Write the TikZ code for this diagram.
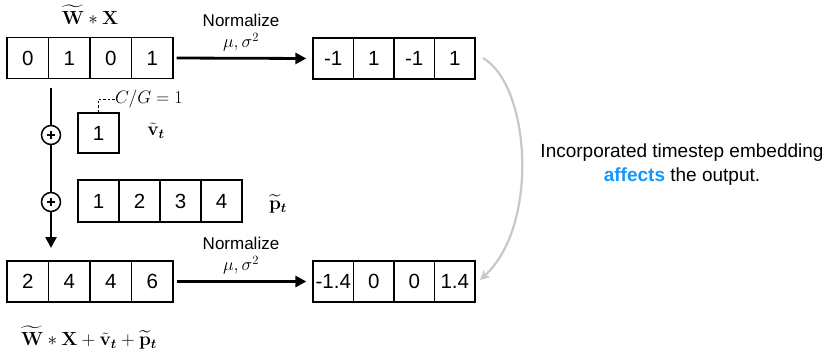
\RequirePackage{fix-cm}
\documentclass[tikz,border=0pt]{standalone}
\usepackage{amsmath,bm}
\usepackage[no-math]{fontspec}
\setmainfont{Liberation Sans}
\usetikzlibrary{arrows.meta}
\definecolor{affblue}{RGB}{20,150,250}
\definecolor{curvegray}{RGB}{200,200,200}
\newcommand\numfont{\fontsize{20.5bp}{24bp}\selectfont}
\newcommand\normfont{\fontsize{17bp}{20bp}\selectfont}
\newcommand\txtfont{\fontsize{19bp}{24bp}\selectfont}
\newcommand\msmall{\fontsize{18bp}{21bp}\selectfont}
\newcommand\mbig{\fontsize{19bp}{23bp}\selectfont}
\tikzset{
  cell/.style={draw, line width=1.3bp, minimum width=41.5bp, minimum height=41bp, inner sep=0pt, font=\numfont},
  rcell/.style={cell, minimum width=40.5bp},
  harrow/.style={line width=2.8bp, -{Triangle[length=11bp,width=11bp]}, shorten <=3bp, shorten >=6bp},
  vline/.style={line width=2.5bp},
  plusnode/.style={circle, draw, line width=1.5bp, fill=white, minimum size=19bp, inner sep=0pt,
    path picture={
      \draw[line width=2bp] ([xshift=-4bp]path picture bounding box.center) -- ([xshift=4bp]path picture bounding box.center);
      \draw[line width=2bp] ([yshift=-4bp]path picture bounding box.center) -- ([yshift=4bp]path picture bounding box.center);
    }},
  normlbl/.style={font=\normfont, inner sep=0pt},
  mlbl/.style={font=\msmall, inner sep=0pt},
  blbl/.style={font=\mbig, inner sep=0pt}
}
\begin{document}
\begin{tikzpicture}[x=1bp,y=-1bp]
\useasboundingbox (0,0) rectangle (826,356);

% top-left row
\node[cell] (a1) at (27.75,58) {0};
\node[cell] (a2) at (69.25,58) {1};
\node[cell] (a3) at (110.75,58) {0};
\node[cell] (a4) at (152.25,58) {1};
% top-right row
\node[rcell] (b1) at (333.25,58.5) {-1};
\node[rcell] (b2) at (373.75,58.5) {1};
\node[rcell] (b3) at (414.25,58.5) {-1};
\node[rcell] (b4) at (454.75,58.5) {1};
% bottom-left row
\node[cell] (c1) at (27.75,281.5) {2};
\node[cell] (c2) at (69.25,281.5) {4};
\node[cell] (c3) at (110.75,281.5) {4};
\node[cell] (c4) at (152.25,281.5) {6};
% bottom-right row
\node[rcell] (d1) at (333.25,281.5) {-1.4};
\node[rcell] (d2) at (373.75,281.5) {0};
\node[rcell] (d3) at (414.25,281.5) {0};
\node[rcell] (d4) at (454.75,281.5) {1.4};
% v box
\node[cell, minimum width=41bp, minimum height=40bp] (vbox) at (98.5,133) {1};
% p row
\node[cell, minimum width=41bp, minimum height=42bp] (p1) at (98.5,201) {1};
\node[cell, minimum width=41bp, minimum height=42bp] (p2) at (139.5,201) {2};
\node[cell, minimum width=41bp, minimum height=42bp] (p3) at (180.5,201) {3};
\node[cell, minimum width=41bp, minimum height=42bp] (p4) at (221.5,201) {4};

% labels
\node[blbl] (wx) at (90,15) {$\widetilde{\mathbf{W}}*\mathbf{X}$};
\node[blbl] (vt) at (156,131) {$\tilde{\mathbf{v}}_{\bm{t}}$};
\node[blbl] (pt) at (278,204) {$\widetilde{\mathbf{p}}_{\bm{t}}$};
\node[blbl] (sum) at (89,338) {$\widetilde{\mathbf{W}}*\mathbf{X}+\tilde{\mathbf{v}}_{\bm{t}}+\widetilde{\mathbf{p}}_{\bm{t}}$};
\node[mlbl, anchor=west] (cg) at (115,99) {$C/G=1$};

% normalize arrows
\node[normlbl] (n1) at (241,20) {Normalize};
\node[mlbl] (m1) at (241,42) {$\mu,\sigma^2$};
\draw[harrow] (a4.east) -- (b1.west);
\node[normlbl] (n2) at (241,243) {Normalize};
\node[mlbl] (m2) at (241,265) {$\mu,\sigma^2$};
\draw[harrow] (c4.east) -- (d1.west);

% vertical accumulation line
\coordinate (vs) at (51,88);
\coordinate (ve) at (51,248);
\node[plusnode] (pl1) at (51,135) {};
\node[plusnode] (pl2) at (51,202) {};
\draw[vline] (vs) -- (pl1);
\draw[vline] (pl1) -- (pl2);
\draw[vline, -{Triangle[length=11bp,width=11bp]}] (pl2) -- (ve);

% dashed C/G connector
\draw[line width=0.9bp, dash pattern=on 2.5bp off 2bp] (vbox.north) |- (cg.west);

% gray curved arrow
\coordinate (cs) at (483,58);
\coordinate (ce) at (480,280);
\draw[curvegray, line width=2.2bp, -{Stealth[length=10bp,width=10bp]}] (cs) .. controls (530,85) and (540,225) .. (ce);

% right text
\node[font=\txtfont, align=center, inner sep=0pt] (txt) at (682,165) {Incorporated timestep embedding\\ \textcolor{affblue}{\textbf{affects}} the output.};
\end{tikzpicture}
\end{document}
